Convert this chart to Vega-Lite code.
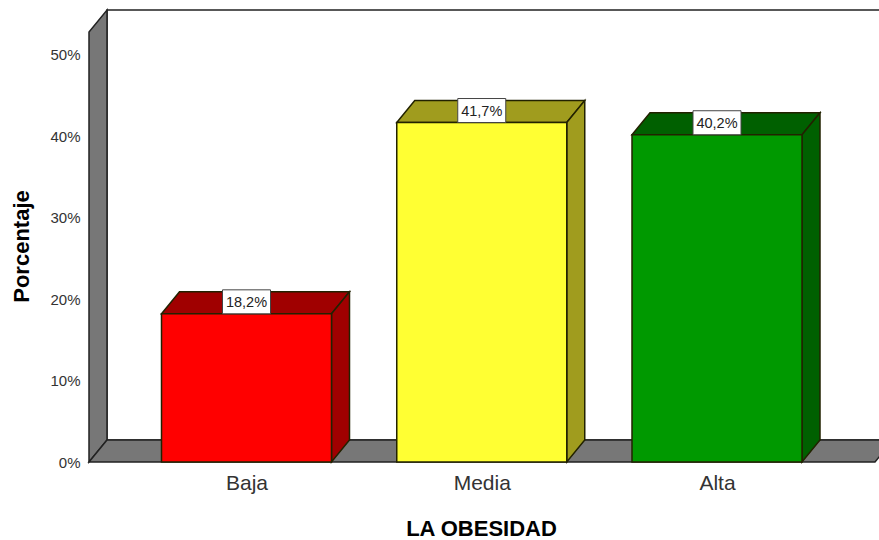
{
"$schema":"https://vega.github.io/schema/vega-lite/v6.json",
"width":790,"height":430,
"autosize":{"type":"none"},
"padding":{"left":89,"top":32,"right":0,"bottom":78},
"background":"#ffffff",
"config":{"view":{"stroke":null},"font":"Liberation Sans"},
"data":{"values":[
{"nivel":"Baja","porcentaje":18.2,"etiqueta":"18,2%"},
{"nivel":"Media","porcentaje":41.7,"etiqueta":"41,7%"},
{"nivel":"Alta","porcentaje":40.2,"etiqueta":"40,2%"}
]},
"encoding":{
"x":{"field":"nivel","type":"nominal","sort":null,
"scale":{"type":"point","padding":0,"domain":["Baja","Media","Alta"],"range":[157.5,628]},
"axis":{"title":"LA OBESIDAD","labelAngle":0,"ticks":false,"domain":false,"grid":false,"labelPadding":10,"labelFontSize":21,"labelColor":"#333333","labelFont":"Liberation Sans","titleFont":"Liberation Sans","titleFontSize":22,"titleFontWeight":"bold","titleColor":"#000000","titleX":392,"titleY":66,"titleAlign":"center","titleBaseline":"middle"}},
"y":{"field":"porcentaje","type":"quantitative",
"scale":{"domain":[0,52.82],"nice":false},
"axis":{"title":"Porcentaje","values":[0,10,20,30,40,50],"labelExpr":"datum.value + '%'","ticks":false,"domain":false,"grid":false,"labelPadding":9,"labelFontSize":15,"labelColor":"#333333","labelFont":"Liberation Sans","titleFont":"Liberation Sans","titleFontSize":22,"titleFontWeight":"bold","titleColor":"#000000","titleX":-68,"titleY":214,"titleAlign":"center","titleBaseline":"middle"}}
},
"layer":[
{"data":{"values":[{"nivel":"Baja","porcentaje":0}]},
 "mark":{"type":"point","filled":true,"size":4,"opacity":1,"fill":"#ffffff","stroke":"#222222","strokeWidth":1.5,"shape":"M-139.5,-22 L-139.5,-452 L650.5,-452 L650.5,-22 Z"}},
{"data":{"values":[{"nivel":"Baja","porcentaje":0}]},
 "mark":{"type":"point","filled":true,"size":4,"opacity":1,"fill":"#777777","stroke":"#222222","strokeWidth":1.5,"shape":"M-157.5,0 L-157.5,-430 L-139.5,-452 L-139.5,-22 Z"}},
{"data":{"values":[{"nivel":"Baja","porcentaje":0}]},
 "mark":{"type":"point","filled":true,"size":4,"opacity":1,"fill":"#777777","stroke":"#222222","strokeWidth":1.5,"shape":"M-157.5,0 L-139.5,-22 L646.5,-22 L628.5,0 Z"}},
{"mark":{"type":"point","filled":true,"size":4,"opacity":1,"stroke":"#222200","strokeWidth":1.5,"shape":"M-85,0 L85,0 L103,-22 L-67,-22 Z"},
 "encoding":{"color":{"field":"nivel","type":"nominal","legend":null,"scale":{"domain":["Baja","Media","Alta"],"range":["#a00000","#a09c1e","#006000"]}}}},
{"mark":{"type":"point","filled":true,"size":4,"opacity":1,"stroke":"#222200","strokeWidth":1.5},
 "encoding":{"color":{"field":"nivel","type":"nominal","legend":null,"scale":{"domain":["Baja","Media","Alta"],"range":["#a00000","#a09c1e","#006000"]}},
 "shape":{"field":"nivel","type":"nominal","legend":null,"scale":{"domain":["Baja","Media","Alta"],"range":["M85,0 L103,-22 L103,126.1 L85,148.1 Z","M85,0 L103,-22 L103,317.4 L85,339.4 Z","M85,0 L103,-22 L103,305.2 L85,327.2 Z"]}}}},
{"mark":{"type":"bar","size":170,"stroke":"#222200","strokeWidth":1.5},
 "encoding":{"color":{"field":"nivel","type":"nominal","legend":null,"scale":{"domain":["Baja","Media","Alta"],"range":["#ff0000","#ffff33","#009900"]}}}},
{"mark":{"type":"point","filled":true,"size":4,"opacity":1,"fill":"#ffffff","stroke":"#444444","strokeWidth":1,"shape":"M-24,-24 L24,-24 L24,0 L-24,0 Z"}},
{"mark":{"type":"text","fontSize":14.5,"font":"Liberation Sans","color":"#222222","yOffset":-11,"baseline":"middle","align":"center"},
 "encoding":{"text":{"field":"etiqueta","type":"nominal"}}}
],
"resolve":{"scale":{"color":"independent"}}
}
